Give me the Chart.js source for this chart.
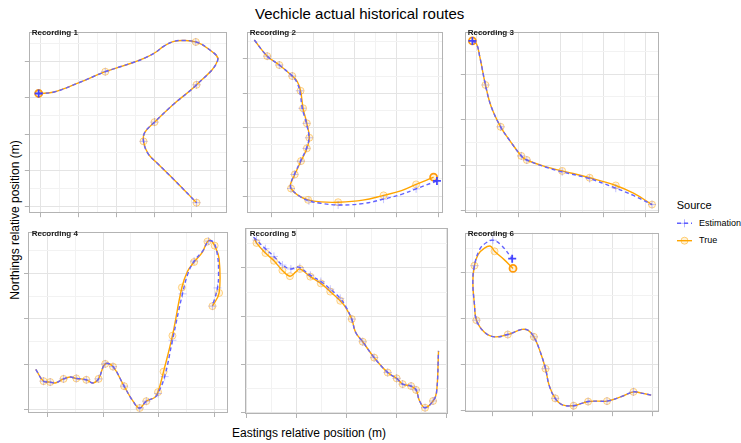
<!DOCTYPE html>
<html>
<head>
<meta charset="utf-8">
<script src="https://cdn.jsdelivr.net/npm/chart.js@4.4.1/dist/chart.umd.min.js"></script>
<style>
  body { margin: 0; background: #fff; font-family: "Liberation Sans", Arial, sans-serif; }
  #page { position: relative; width: 741px; height: 443px; overflow: hidden; background: #fff; }
  #page canvas, .txt, svg { position: absolute; }
  .txt { white-space: nowrap; color: #000; }
  .strip { font-size: 8px; line-height: 8px; font-weight: bold; color: #1a1a1a; }
</style>
</head>
<body>
<div id="page">
  <div class="txt" style="left:255px; top:5.6px; font-size:15px; line-height:15px;">Vechicle actual historical routes</div>
  <div class="txt" style="left:232px; top:426.8px; font-size:12px; line-height:12px;">Eastings relative position (m)</div>
  <div class="txt" style="left:-84.7px; top:214px; width:200px; text-align:center; font-size:12px; line-height:12px; transform:rotate(-90deg);">Northings relative position (m)</div>

  <div class="txt" style="left:676.7px; top:199.7px; font-size:11px; line-height:11px;">Source</div>
  <svg style="left:676px; top:214px;" width="18" height="36">
    <line x1="1" y1="9.3" x2="16" y2="9.3" stroke="#6161ff" stroke-width="1.4" stroke-dasharray="4,3"/>
    <line x1="4.5" y1="9.3" x2="12.5" y2="9.3" stroke="rgba(90,90,255,0.45)" stroke-width="1"/>
    <line x1="8.5" y1="5.3" x2="8.5" y2="13.3" stroke="rgba(90,90,255,0.45)" stroke-width="1"/>
    <line x1="1" y1="26.7" x2="16" y2="26.7" stroke="#ffa500" stroke-width="1.4"/>
    <circle cx="8.5" cy="26.7" r="3.5" fill="rgba(255,165,0,0.15)" stroke="rgba(255,165,0,0.5)" stroke-width="1"/>
  </svg>
  <div class="txt" style="left:699px; top:218.9px; font-size:9px; line-height:9px;">Estimation</div>
  <div class="txt" style="left:699px; top:236.3px; font-size:9px; line-height:9px;">True</div>
</div>
<script>
// routes, in metres relative to each recording's origin: [easting, northing]
const rec1True = [[-5,312],[36,316],[100,341],[171,372],[241,396],[276,410],[303,425],[325,442],[350,455],[378,458],[410,454],[442,436],[468,404],[412,336],[352,283],[301,233],[275,204],[272,180],[284,146],[309,119],[352,75],[412,11]];
const rec1Est  = [[-5,312],[36,316],[100,341],[171,372],[241,396],[276,410],[303,425],[325,442],[350,455],[378,458],[410,454],[442,436],[468,404],[412,336],[352,283],[301,233],[275,204],[272,180],[284,146],[309,119],[352,75],[412,11]];
const rec1TrueMarks = [0,3,10,13,15,17,21];
const rec1EstMarks  = [0,3,10,13,15,17,21];

const rec2True = [[-41,455],[-10,408],[19,382],[50,350],[62,334],[70,307],[76,256],[85,212],[91,170],[85,139],[71,102],[56,63],[46,35],[47,22],[64,2],[88,-11],[118,-17],[160,-18],[219,-12],[269,2],[312,16],[347,34],[389,55]];
const rec2Est  = [[-41,455],[-10,408],[19,382],[50,350],[60,334],[68,307],[74,256],[84,212],[90,170],[84,139],[70,102],[55,63],[46,35],[47,22],[66,1],[90,-14],[118,-21],[160,-26],[219,-22],[269,-9],[312,5],[347,21],[397,44]];
const rec2TrueMarks = [1,2,3,5,6,7,8,9,10,11,13,15,17,19,21,22];
const rec2EstMarks  = [1,2,3,5,6,7,8,9,10,11,13,15,17,19,21,22];

const rec3True = [[-10,373],[0,366],[8,336],[21,276],[34,230],[57,184],[80,152],[106,120],[119,111],[165,96],[203,87],[268,72],[330,55],[372,38],[416,13]];
const rec3Est  = [[-10,373],[0,366],[8,336],[21,276],[34,230],[57,184],[80,152],[106,120],[119,111],[165,95],[203,85],[268,70],[330,49],[372,33],[416,13]];
const rec3TrueMarks = [0,3,5,7,8,10,11,12,14];
const rec3EstMarks  = [0,3,5,7,8,10,11,12,14];

const rec4True = [[-21,89],[-7,63],[5,61],[14,59],[29,68],[41,72],[52,69],[70,66],[82,59],[92,68],[104,101],[118,95],[138,52],[154,19],[166,4],[178,19],[193,27],[199,39],[209,84],[225,163],[242,269],[252,304],[264,325],[279,347],[288,370],[294,372],[301,361],[309,332],[309,257],[297,228]];
const rec4Est  = [[-21,89],[-7,63],[5,61],[14,59],[29,68],[41,72],[52,69],[70,66],[82,59],[92,68],[104,101],[118,95],[138,52],[154,19],[166,4],[178,19],[193,27],[199,36],[211,73],[225,153],[243,255],[253,300],[264,327],[280,350],[290,371],[299,368],[306,340],[308,300],[306,268],[297,228]];
const rec4TrueMarks = [1,2,4,6,7,9,10,11,12,14,15,17,18,19,20,22,24,26,28,29];
const rec4EstMarks  = [1,2,4,6,7,9,10,11,12,14,15,17,18,19,20,22,24,28,29];

const rec5True = [[16,362],[20,352],[38,331],[55,315],[72,295],[87,283],[99,292],[107,298],[128,282],[149,268],[168,251],[188,232],[199,218],[211,194],[219,166],[233,147],[256,114],[283,83],[301,71],[313,59],[330,55],[340,47],[347,24],[358,10],[374,24],[381,42],[385,128]];
const rec5Est  = [[14,364],[20,358],[38,340],[55,324],[72,306],[89,298],[100,302],[107,301],[128,285],[149,272],[168,256],[188,237],[199,220],[211,194],[219,166],[233,147],[256,114],[283,83],[301,71],[313,59],[330,55],[340,47],[347,24],[358,10],[374,24],[381,42],[385,128]];
const rec5TrueMarks = [1,2,3,4,5,7,8,9,10,11,13,15,16,17,18,19,20,21,23,24];
const rec5EstMarks  = [1,2,3,4,5,7,8,9,10,11,13,15,16,17,18,19,20,21,23,24];

const rec6True = [[396,34],[368,39],[352,41],[320,30],[286,21],[263,21],[239,20],[223,16],[203,11],[175,13],[157,27],[142,55],[133,91],[118,132],[104,160],[90,174],[74,176],[39,165],[6,160],[-19,170],[-39,196],[-44,230],[-48,279],[-44,314],[-35,338],[-19,352],[-4,356],[6,345],[30,327],[52,308]];
const rec6Est  = [[396,34],[368,39],[352,41],[320,30],[286,21],[263,21],[239,20],[223,16],[203,11],[175,13],[157,27],[142,55],[133,91],[118,132],[104,160],[90,174],[74,176],[39,165],[6,160],[-19,170],[-39,196],[-44,230],[-48,279],[-44,314],[-31,349],[-14,364],[2,369],[22,359],[50,329]];
const rec6TrueMarks = [2,4,6,8,10,12,14,17,20,23,27,29];
const rec6EstMarks  = [2,4,6,8,10,12,14,17,20,23,26,28];

// tick positions (labels are blank in the original)
const ticks100to400 = [0, 100, 200, 300, 400];
const ticks100to300 = [0, 100, 200, 300];

const panels = [
  { name: 'Recording 1', tru: rec1True, est: rec1Est, trueMarks: rec1TrueMarks, estMarks: rec1EstMarks,
    left: 27, top: 27, w: 205, h: 188, xr: [-31, 493], yr: [-18, 482], xt: ticks100to400, yt: ticks100to400, bold: 'first' },
  { name: 'Recording 2', tru: rec2True, est: rec2Est, trueMarks: rec2TrueMarks, estMarks: rec2EstMarks,
    left: 245, top: 27, w: 203, h: 188, xr: [-59, 412], yr: [-50, 479], xt: ticks100to400, yt: ticks100to400, bold: 'last' },
  { name: 'Recording 3', tru: rec3True, est: rec3Est, trueMarks: rec3TrueMarks, estMarks: rec3EstMarks,
    left: 463, top: 27, w: 201, h: 188, xr: [-28, 433], yr: [-6, 393], xt: ticks100to400, yt: ticks100to300, bold: 'first' },
  { name: 'Recording 4', tru: rec4True, est: rec4Est, trueMarks: rec4TrueMarks, estMarks: rec4EstMarks,
    left: 27, top: 228, w: 205, h: 186, xr: [-35, 325], yr: [-7, 391], xt: ticks100to300, yt: ticks100to300, bold: null },
  { name: 'Recording 5', tru: rec5True, est: rec5Est, trueMarks: rec5TrueMarks, estMarks: rec5EstMarks,
    left: 245, top: 228, w: 203, h: 186, xr: [-3, 404], yr: [-3, 383], xt: ticks100to400, yt: ticks100to300, bold: null },
  { name: 'Recording 6', tru: rec6True, est: rec6Est, trueMarks: rec6TrueMarks, estMarks: rec6EstMarks,
    left: 463, top: 228, w: 201, h: 186, xr: [-68, 416], yr: [-3, 385], xt: ticks100to400, yt: ticks100to300, bold: 'last' }
];

const TICK = 4;

const panelBorder = {
  id: 'panelBorder',
  afterDraw(chart) {
    const { ctx, chartArea: a } = chart;
    ctx.save();
    ctx.strokeStyle = '#b3b3b3';
    ctx.lineWidth = 1;
    ctx.strokeRect(Math.round(a.left) + 0.5, Math.round(a.top) + 0.5,
      Math.round(a.right - a.left) - 1, Math.round(a.bottom - a.top) - 1);
    ctx.restore();
  }
};

function minorOf(major, min, max) {
  const step = major[1] - major[0];
  const out = [];
  for (let v = major[0] - step / 2; v < max; v += step) {
    if (v > min) out.push(v);
  }
  return out;
}

function axisOpts(range, major) {
  const minor = minorOf(major, range[0], range[1]);
  const isMajor = c => c.tick && major.includes(c.tick.value);
  return {
    type: 'linear',
    min: range[0],
    max: range[1],
    afterBuildTicks: axis => {
      axis.ticks = major.concat(minor).sort((a, b) => a - b).map(v => ({ value: v }));
    },
    ticks: { display: false },
    border: { display: false },
    grid: {
      color: c => isMajor(c) ? '#e4e4e4' : '#f2f2f2',
      lineWidth: 1,
      drawTicks: true,
      tickLength: TICK,
      tickColor: c => isMajor(c) ? '#b3b3b3' : 'rgba(0,0,0,0)',
      tickWidth: 1
    }
  };
}

const page = document.getElementById('page');

panels.forEach(p => {
  const canvas = document.createElement('canvas');
  canvas.width = p.w + TICK + 1;
  canvas.height = p.h + TICK + 1;
  canvas.style.left = (p.left - TICK) + 'px';
  canvas.style.top = (p.top - 1) + 'px';
  page.appendChild(canvas);

  const label = document.createElement('div');
  label.className = 'txt strip';
  label.textContent = p.name;
  label.style.left = (p.left + 4.7) + 'px';
  label.style.top = (p.top + 2) + 'px';
  page.appendChild(label);

  const isBold = (c, n) => (p.bold === 'first' && c.dataIndex === 0) || (p.bold === 'last' && c.dataIndex === n - 1);

  new Chart(canvas, {
    type: 'scatter',
    data: {
      datasets: [
        {
          label: 'Estimation',
          data: p.est.map(d => ({ x: d[0], y: d[1] })),
          showLine: true,
          tension: 0.4,
          borderColor: '#6262ff',
          borderWidth: 1.4,
          borderDash: [4, 3],
          pointStyle: 'cross',
          pointRadius: c => p.estMarks.includes(c.dataIndex) ? 4 : 0,
          pointBorderColor: c => isBold(c, p.est.length) ? 'rgba(60,60,255,0.95)' : 'rgba(90,90,255,0.35)',
          pointBorderWidth: c => isBold(c, p.est.length) ? 1.8 : 1,
          pointBackgroundColor: 'rgba(0,0,0,0)',
          order: 0
        },
        {
          label: 'True',
          data: p.tru.map(d => ({ x: d[0], y: d[1] })),
          showLine: true,
          tension: 0.4,
          borderColor: '#ffa500',
          borderWidth: 1.4,
          pointStyle: 'circle',
          pointRadius: c => p.trueMarks.includes(c.dataIndex) ? 3.5 : 0,
          pointBorderColor: c => isBold(c, p.tru.length) ? 'rgba(255,150,0,0.95)' : 'rgba(255,165,0,0.45)',
          pointBorderWidth: c => isBold(c, p.tru.length) ? 1.8 : 1,
          pointBackgroundColor: 'rgba(255,165,0,0.12)',
          order: 1
        }
      ]
    },
    options: {
      responsive: false,
      animation: false,
      devicePixelRatio: 1,
      events: [],
      layout: { padding: { top: 1, right: 1, left: 0, bottom: 0 } },
      plugins: { legend: { display: false }, tooltip: { enabled: false }, title: { display: false } },
      scales: {
        x: axisOpts(p.xr, p.xt),
        y: axisOpts(p.yr, p.yt)
      }
    },
    plugins: [panelBorder]
  });
});
</script>
</body>
</html>
